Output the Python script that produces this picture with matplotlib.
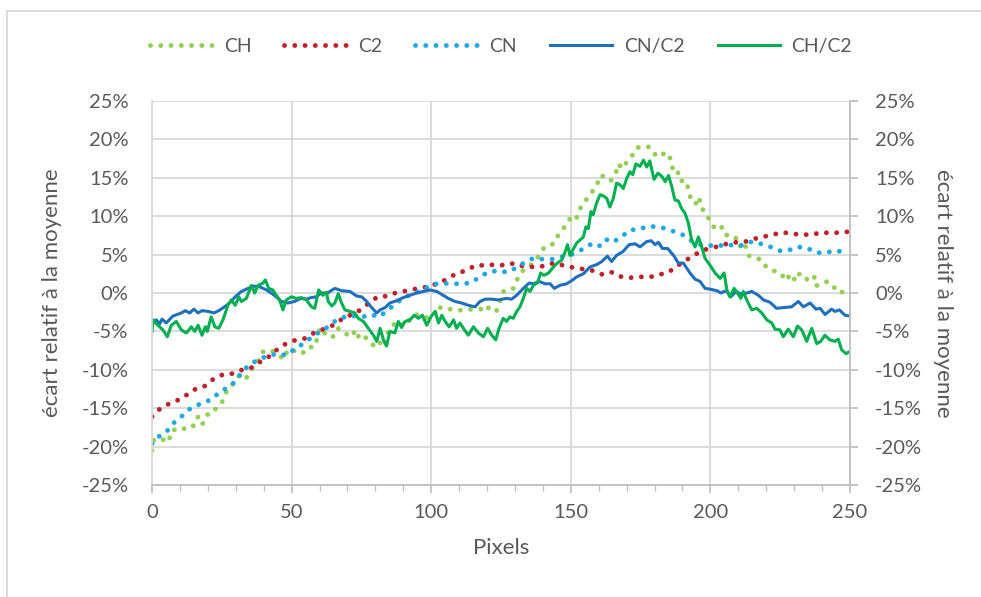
import matplotlib
matplotlib.use('Agg')
import matplotlib.pyplot as plt
from matplotlib.lines import Line2D
from matplotlib.ticker import MultipleLocator, FuncFormatter

# --- données (écart relatif en %) ---
c2_x = [0, 2.8, 5.7, 9, 12.3, 15.6, 19, 22, 25.5, 28.6, 32.3, 35.8, 39, 42.3, 45,
        48, 51.6, 55, 58, 61.5, 65.5, 68, 71.5, 74.7, 77.7, 80.8, 84.3, 87.8, 91.4, 95.2,
        98.6, 102, 105.7, 108.8, 112.2, 116, 119.6, 123, 126.5, 130, 133.5, 136.7, 140.3, 143.7, 147.3,
        151, 154.7, 158, 161.4, 164.8, 168.2, 171.7, 175.1, 178.6, 181.7, 185, 188, 191, 194, 197.5,
        201, 204.8, 208.2, 211.8, 215.1, 218.7, 222.3, 225.9, 229.6, 232.8, 236.5, 239.7, 243.3, 247, 250]
c2_y = [-16.1, -15.1, -14.5, -14.0, -13.3, -12.5, -12.1, -11.2, -10.6, -10.5, -10.0, -9.7, -8.9, -8.2, -7.3,
        -6.6, -6.1, -5.9, -5.2, -4.7, -4.1, -3.4, -2.8, -2.2, -1.3, -0.5, -0.4, 0.1, 0.3, 0.6,
        0.8, 1.2, 1.8, 2.5, 2.9, 3.6, 3.6, 3.7, 3.6, 3.9, 3.4, 3.4, 3.5, 3.9, 3.6,
        3.3, 3.1, 2.9, 2.4, 2.7, 2.1, 2.0, 2.1, 2.1, 2.4, 2.7, 3.5, 4.2, 4.9, 5.6,
        5.9, 6.3, 6.6, 6.6, 7.0, 7.3, 7.6, 7.9, 7.7, 7.6, 7.6, 7.9, 7.8, 7.9, 8.0]

cn_x = [0, 2.4, 5.1, 7.5, 10.5, 13.1, 16.2, 19.2, 22, 24.1, 27.2, 30, 32.2, 35, 38, 41.3, 44.9, 47.9,
        51.1, 53.7, 56.7, 59.5, 62.6, 65.8, 69.1, 72.2, 75.6, 78.4, 81.3, 84.3, 87.4, 90.4, 93.2, 96.6,
        99.7, 103.2, 106.8, 110.4, 114, 117.1, 120.2, 123.7, 127.3, 130.6, 133.5, 136.4, 139.9, 143.3,
        146.6, 150.2, 153.7, 157, 159.9, 162.5, 165, 168.1, 171.2, 174.3, 177.9, 181.2, 184, 187, 190,
        193.2, 196.3, 199.4, 202.6, 205.6, 208.5, 211.6, 214.9, 218.1, 221.6, 224.7, 228.3, 231.1,
        234.5, 237.5, 240.1, 243.4, 245.9, 249]
cn_y = [-19.6, -18.7, -18.1, -17.0, -16.1, -15.2, -14.6, -14.2, -13.7, -12.9, -12.3, -11.5, -10.3, -9.3,
        -8.7, -8.2, -7.9, -8.1, -7.3, -6.7, -5.9, -5.2, -4.5, -3.6, -3.1, -3.0, -3.1, -2.8, -3.1, -2.3,
        -1.3, -0.6, -0.1, 0.3, 1.0, 1.3, 1.2, 1.2, 1.3, 2.0, 2.7, 2.9, 2.7, 3.3, 4.0, 4.5, 4.4, 4.4,
        4.7, 5.0, 5.6, 6.3, 6.0, 7.0, 6.6, 7.3, 8.2, 8.3, 8.7, 8.6, 8.4, 8.0, 7.6, 6.8, 6.3, 6.2, 6.1,
        6.3, 6.2, 6.2, 6.7, 6.4, 6.0, 5.5, 5.6, 6.0, 5.9, 5.3, 5.2, 5.4, 5.5, 4.8]

ch_x = [0, 0.6, 3.3, 6, 6.9, 8.7, 10.9, 13.5, 15, 16.5, 18, 19.4, 20.4, 22.8, 25, 26.4, 28, 31.8, 33.9,
        36.2, 38, 39.5, 41.3, 43.4, 46.1, 47.3, 48.7, 51.6, 53.8, 55.6, 58.3, 60.3, 62.2, 64.6, 66.4,
        67.6, 69.4, 71.5, 72.9, 74.5, 76.5, 79.3, 80.7, 83.5, 84.6, 87.6, 90.6, 93.6, 95.7, 98.4, 101.4,
        102.2, 104.3, 106.4, 109.1, 112.1, 114.5, 118, 119.7, 121.3, 123.3, 124.6, 125.8, 127.6, 129.4,
        131.2, 133, 137, 139, 140.6, 143.8, 145.6, 147.3, 149, 150, 151.9, 153.3, 155, 156.4, 157.5,
        159.3, 160.5, 162.8, 164.3, 166.2, 167, 168.6, 170.6, 172.2, 173.6, 176.1, 178.2, 179.2, 181.2,
        182.9, 185, 186.1, 186.7, 188.3, 189.1, 191.3, 192.3, 193.3, 194.8, 196, 196.6, 198.3, 199.9,
        202, 204.4, 205.3, 206.6, 210, 210.9, 212.4, 213.6, 215.8, 218, 220.2, 222.6, 225.2, 227, 228.8,
        230.3, 231.5, 233.7, 235.4, 237.1, 237.7, 240.1, 241.9, 244.3, 246.2, 247.7, 250]
ch_y = [-20.5, -19.1, -19.0, -19.4, -18.0, -17.7, -17.8, -17.2, -17.3, -16.1, -17.1, -16.3, -15.4, -15.1,
        -14.3, -13.0, -12.3, -10.5, -11.0, -9.6, -8.9, -7.7, -7.4, -7.6, -8.3, -8.6, -7.3, -7.6, -7.9,
        -7.1, -7.0, -4.5, -5.4, -5.8, -4.6, -4.7, -5.3, -5.7, -4.8, -6.1, -5.8, -6.8, -6.2, -7.0, -5.0,
        -3.7, -4.3, -2.9, -2.8, -3.2, -2.6, -1.7, -2.1, -2.1, -2.2, -2.3, -2.1, -2.1, -1.6, -2.3, -2.4,
        -1.1, 0.2, 0.2, 0.6, 2.1, 3.0, 4.0, 5.1, 6.0, 6.4, 7.6, 8.4, 9.2, 9.9, 9.6, 11.0, 11.8, 12.7,
        13.1, 14.0, 15.3, 15.1, 14.6, 15.7, 16.8, 16.2, 17.4, 18.0, 18.9, 19.1, 19.0, 18.4, 17.7, 18.1,
        18.2, 16.9, 15.7, 15.8, 14.6, 14.6, 13.2, 11.8, 11.7, 12.5, 11.1, 10.5, 9.3, 8.2, 8.6, 7.8, 7.2,
        7.1, 5.8, 6.3, 4.9, 4.5, 4.4, 3.3, 2.9, 2.6, 1.6, 2.5, 1.7, 2.6, 1.7, 1.9, 2.3, 0.9, 1.3, 1.5,
        0.7, 0.7, -0.2, -0.5]

cnc2_x = [0, 1.5, 2.8, 3.6, 5.1, 7.5, 10.5, 11.9, 13.5, 15, 16.5, 17.9, 20.1, 22.2, 23.9, 26, 27.8, 29.8,
          32, 34.4, 36.5, 38.6, 41, 42.7, 44.5, 46.3, 48.7, 51.1, 53.3, 55.3, 57, 58.8, 60.6, 62.8, 65.5,
          67.9, 70.9, 73.3, 75.1, 76.9, 78.7, 80.5, 81.7, 83.5, 85.2, 87.6, 90, 92.4, 94.8, 97.2, 99.6,
          102, 104.3, 106.1, 108.5, 110.9, 113.3, 115.7, 117.5, 119.3, 121.7, 124, 127, 128.8, 130.6,
          133, 135.1, 136.6, 138.7, 140.8, 142.6, 144.1, 146.1, 148.5, 150.3, 152.1, 154.5, 156.9,
          159.3, 161.1, 163.1, 164.6, 166.4, 168.7, 170.9, 173, 174.8, 177.2, 178.8, 180.2, 181.4,
          182.8, 184.7, 187, 188.5, 190.3, 192.7, 194.5, 196.3, 198.1, 199.9, 202.3, 203.8, 205.6,
          207.3, 209.2, 211.2, 213, 214.8, 217.2, 219, 221.3, 223.7, 226.1, 229.1, 231.5, 233.3, 235.7,
          237.8, 239.3, 241.1, 243.4, 244.6, 246.2, 248.2, 250]
cnc2_y = [-3.9, -3.5, -4.0, -3.4, -3.9, -3.0, -2.6, -2.3, -2.6, -2.1, -2.6, -2.3, -2.4, -2.6, -2.3, -1.8,
          -1.3, -0.5, 0.2, 0.6, 0.9, 0.8, 0.4, 0.0, -0.5, -1.1, -1.3, -1.1, -0.7, -0.8, -0.6, -0.5, 0.0,
          0.0, 0.6, 0.3, 0.2, -0.4, -0.5, -1.1, -1.9, -2.6, -2.2, -1.9, -1.3, -1.0, -0.6, -0.3, 0.0, 0.2,
          0.4, 0.2, -0.3, -0.7, -1.1, -1.3, -1.6, -1.8, -1.1, -0.8, -0.8, -0.9, -0.7, -0.8, -0.3, 0.6,
          1.3, 1.2, 1.5, 1.2, 1.2, 0.6, 1.0, 1.2, 1.6, 2.1, 2.5, 3.4, 3.7, 4.1, 4.8, 4.1, 4.9, 5.4, 6.3,
          6.4, 6.0, 6.7, 6.8, 6.3, 6.6, 5.8, 5.8, 4.8, 3.9, 3.9, 2.6, 1.8, 1.5, 0.6, 0.5, 0.3, 0.0, 0.3,
          -0.5, 0.2, -0.2, 0.0, 0.2, -0.3, -0.9, -1.2, -2.0, -1.9, -1.8, -1.1, -1.8, -1.3, -2.1, -2.0,
          -2.8, -2.1, -2.4, -2.2, -2.9, -3.0]

chc2_x = [0, 0.4, 2.1, 3.9, 5.5, 6.9, 8.7, 10.5, 12.3, 14.1, 15.3, 16.5, 17.9, 19.1, 19.8, 21.2, 22.5,
          23.9, 25.4, 27.2, 28.4, 29.8, 31.1, 32, 33.8, 35.6, 36.8, 38, 39.8, 40.6, 41.8, 43.3, 44.5,
          45.7, 46.9, 48.1, 49.9, 51.7, 53.5, 55.3, 57.1, 58.3, 59.7, 61.2, 62.5, 63.1, 64.4, 65.5, 66.7,
          67.9, 69.1, 70.9, 72.7, 73.9, 75.7, 77.5, 79.3, 80.5, 81.7, 82.9, 84, 85.2, 87, 88.2, 89.4,
          90.6, 92.4, 93.9, 95.4, 96.8, 98.4, 99.9, 101.4, 102.6, 103.8, 105, 106.4, 108, 109.1, 110.3,
          111.9, 113.3, 115.1, 116.9, 118.7, 120.2, 121.7, 123.1, 124.3, 125.8, 127, 128.2, 129.4, 130.6,
          131.8, 133, 134.2, 135.4, 136.6, 138, 139.2, 140.4, 142, 143.8, 145.2, 146.8, 148, 148.8,
          149.7, 150.7, 152.1, 153.3, 154.5, 155.4, 156.3, 157.2, 158, 159.3, 160.5, 161.9, 162.9, 164,
          165.2, 166.4, 167.6, 168.8, 170, 171.2, 172.2, 173.3, 174.8, 176, 177.2, 178.3, 179.8, 181.2,
          182.6, 183.8, 185, 186.2, 187.3, 188.5, 189.7, 190.9, 192.1, 193.3, 194.5, 195.7, 196.9,
          198.1, 199.9, 201.7, 203.5, 204.9, 205.9, 207, 208.5, 209.7, 210.9, 211.8, 213, 214.8, 216.6,
          218.4, 220.2, 222, 223.1, 224.9, 226.1, 227.9, 229.7, 231.2, 232.7, 234.5, 236.3, 238.1,
          239.5, 241, 242.8, 244.6, 245.8, 247, 248.6, 250]
chc2_y = [-5.0, -3.5, -4.2, -4.8, -5.7, -4.2, -3.7, -4.8, -5.2, -4.4, -5.0, -4.2, -5.5, -4.4, -5.0, -3.1,
          -4.4, -4.6, -3.5, -1.6, -0.9, -1.6, -0.5, -1.1, -0.7, 1.0, 0.0, 1.0, 1.3, 1.7, 0.6, 0.4, -0.3,
          -0.9, -2.2, -0.9, -0.5, -0.7, -0.6, -0.9, -1.8, -2.0, 0.4, -0.3, 0.1, -1.1, -1.7, -1.3, -0.1,
          -1.3, -2.2, -2.4, -2.6, -3.3, -3.7, -4.6, -5.5, -6.3, -4.6, -6.1, -6.9, -5.0, -5.2, -3.7, -4.5,
          -3.7, -3.5, -2.9, -3.3, -2.9, -4.2, -3.1, -2.4, -3.9, -2.9, -3.7, -4.4, -3.5, -4.6, -3.9, -4.8,
          -5.5, -4.4, -5.2, -5.7, -4.6, -5.5, -6.1, -4.6, -3.3, -3.7, -3.1, -3.3, -2.4, -1.8, -0.7, 0.6,
          0.2, 1.0, 1.3, 2.6, 2.3, 2.6, 3.4, 3.9, 4.3, 5.4, 6.3, 4.9, 5.6, 6.5, 6.9, 7.3, 8.6, 8.4, 10.6,
          10.2, 11.8, 12.8, 12.6, 12.3, 11.2, 12.3, 14.3, 14.1, 13.6, 14.9, 15.8, 15.4, 16.8, 16.5, 17.3,
          16.4, 17.2, 14.8, 15.6, 15.2, 14.5, 15.3, 13.8, 12.1, 12.0, 11.0, 10.4, 9.1, 6.9, 6.0, 7.3,
          6.0, 4.5, 3.6, 2.6, 1.9, 2.6, 0.4, -0.5, 0.6, 0.0, -0.7, 0.2, -0.9, -2.2, -2.0, -2.6, -3.5,
          -3.9, -4.7, -4.8, -5.7, -4.7, -5.7, -4.3, -4.8, -6.3, -4.6, -6.6, -6.3, -5.5, -6.1, -6.3, -6.0,
          -7.4, -7.9, -7.6]

series_labels = ["CH", "C2", "CN", "CN/C2", "CH/C2"]
series_colors = ["#92D050", "#C0202A", "#1CA9E6", "#1F6FBF", "#00B050"]

text_color = "#595959"
grid_color = "#D9D9D9"
plt.rcParams['font.family'] = ['Lato', 'DejaVu Sans']

fig = plt.figure(figsize=(9.81, 5.97), dpi=100)
ax = fig.add_axes([152 / 981, 1 - 485 / 597, (850 - 152) / 981, (485 - 101) / 597])

dot_style = dict(linestyle=(0, (0.01, 2.1)), linewidth=3.5, dash_capstyle='round')
ax.plot(ch_x, ch_y, color=series_colors[0], label=series_labels[0], **dot_style)
ax.plot(c2_x, c2_y, color=series_colors[1], label=series_labels[1], **dot_style)
ax.plot(cn_x, cn_y, color=series_colors[2], label=series_labels[2], **dot_style)
ax.plot(cnc2_x, cnc2_y, color=series_colors[3], label=series_labels[3], linewidth=2.2)
ax.plot(chc2_x, chc2_y, color=series_colors[4], label=series_labels[4], linewidth=2.2)

ax.set_xlim(0, 250)
ax.set_ylim(-25, 25)
ax.xaxis.set_major_locator(MultipleLocator(50))
ax.xaxis.set_minor_locator(MultipleLocator(10))
ax.yaxis.set_major_locator(MultipleLocator(5))
pct = FuncFormatter(lambda v, p: f"{v:.0f}%")
ax.yaxis.set_major_formatter(pct)
ax.grid(True, which='major', color=grid_color, linewidth=1.3)
ax.set_axisbelow(True)

for side in ['top', 'right']:
    ax.spines[side].set_visible(False)
ax.spines['left'].set_color(grid_color)
ax.spines['bottom'].set_color("#BFBFBF")
ax.spines['left'].set_linewidth(1.3)
ax.spines['bottom'].set_linewidth(1.3)

ax.tick_params(axis='x', which='major', direction='out', length=6, width=1.3, color="#BFBFBF",
               labelsize=14.5, labelcolor=text_color, pad=8)
ax.tick_params(axis='x', which='minor', direction='out', length=4, width=1.0, color="#BFBFBF")
ax.tick_params(axis='y', which='major', length=0, labelsize=14.5, labelcolor=text_color, pad=17)

ax2 = ax.twinx()
ax2.set_ylim(-25, 25)
ax2.yaxis.set_major_locator(MultipleLocator(5))
ax2.yaxis.set_major_formatter(pct)
for side in ['top', 'left', 'bottom']:
    ax2.spines[side].set_visible(False)
ax2.spines['right'].set_color("#BFBFBF")
ax2.spines['right'].set_linewidth(1.3)
ax2.tick_params(axis='y', direction='out', length=6, width=1.3, color="#BFBFBF",
                labelsize=14.5, labelcolor=text_color, pad=12)

ax.set_xlabel("Pixels", fontsize=16, color=text_color, labelpad=12)
ax.set_ylabel("écart relatif à la moyenne", fontsize=16, color=text_color, labelpad=14)
ax2.set_ylabel("écart relatif à la moyenne", fontsize=16, color=text_color, rotation=270,
               labelpad=22)

leg = ax.legend(loc='lower center', bbox_to_anchor=(0.5, 1.075), ncol=5, frameon=False,
                fontsize=14, handlelength=3.2, handletextpad=0.6, columnspacing=1.7,
                labelcolor=text_color)

# cadre de la zone du graphique
fig.add_artist(Line2D([7 / 981, 7 / 981], [0, 1 - 11 / 597], color=grid_color, linewidth=1.3))
fig.add_artist(Line2D([7 / 981, 1], [1 - 11 / 597, 1 - 11 / 597], color=grid_color, linewidth=1.3))

fig.savefig("out.png", dpi=100)
